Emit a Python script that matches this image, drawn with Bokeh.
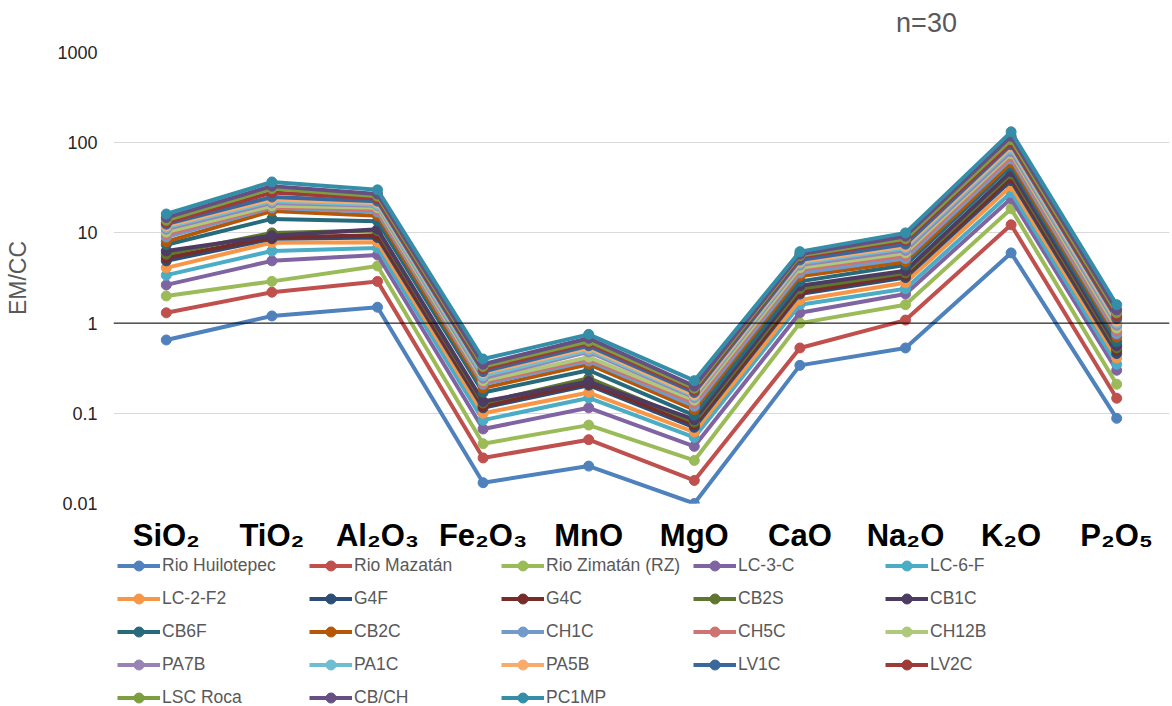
from bokeh.plotting import figure
from bokeh.layouts import column
from bokeh.models import (FactorRange, Range1d, FixedTicker, CustomJSTickFormatter,
                          Span, Label, Legend, LegendItem)
from bokeh.embed import file_html
from bokeh.resources import INLINE

# Oxides on the x axis (subscripts as Unicode)
oxides = ["SiO₂", "TiO₂", "Al₂O₃", "Fe₂O₃", "MnO", "MgO", "CaO", "Na₂O", "K₂O", "P₂O₅"]

# Log-axis ticks
y_ticks = [0.01, 0.1, 1, 10, 100, 1000]

# EM/CC ratios per sample, in the oxide order above
rio_huilotepec = [0.65, 1.2, 1.5, 0.017, 0.026, 0.010, 0.34, 0.53, 6.0, 0.088]
rio_mazatan = [1.3, 2.2, 2.9, 0.032, 0.051, 0.018, 0.53, 1.08, 12.3, 0.147]
rio_zimatan = [2.0, 2.9, 4.3, 0.046, 0.074, 0.030, 1.0, 1.6, 18.5, 0.21]
lc_3_c = [2.65, 4.9, 5.7, 0.067, 0.115, 0.043, 1.3, 2.1, 24.0, 0.30]
lc_6_f = [3.4, 6.3, 6.8, 0.084, 0.148, 0.054, 1.6, 2.4, 28.0, 0.35]
lc_2_f2 = [4.1, 7.8, 7.9, 0.100, 0.170, 0.062, 1.8, 2.8, 33.0, 0.41]
g4f = [4.9, 8.6, 8.9, 0.115, 0.205, 0.070, 2.1, 3.2, 38.0, 0.46]
g4c = [5.3, 8.9, 9.4, 0.120, 0.215, 0.075, 2.2, 3.4, 41.0, 0.50]
cb2s = [5.8, 10.0, 10.6, 0.130, 0.245, 0.080, 2.4, 3.6, 45.0, 0.53]
cb1c = [6.3, 9.3, 11.0, 0.135, 0.225, 0.085, 2.6, 3.8, 48.0, 0.56]
cb6f = [7.4, 14.3, 13.5, 0.170, 0.300, 0.095, 2.9, 4.4, 55.0, 0.62]
cb2c = [8.0, 17.5, 15.5, 0.190, 0.350, 0.110, 3.3, 4.8, 60.0, 0.70]
ch1c = [9.0, 19.0, 17.0, 0.210, 0.380, 0.120, 3.6, 5.2, 66.0, 0.76]
ch5c = [9.6, 19.5, 18.0, 0.220, 0.400, 0.130, 3.9, 5.6, 71.0, 0.82]
ch12b = [10.2, 20.0, 19.0, 0.230, 0.420, 0.140, 4.1, 6.0, 76.0, 0.88]
pa7b = [11.0, 21.5, 20.0, 0.245, 0.480, 0.150, 4.4, 6.4, 80.0, 0.95]
pa1c = [11.5, 22.5, 20.5, 0.260, 0.500, 0.155, 4.6, 6.8, 85.0, 1.00]
pa5b = [12.0, 23.5, 21.5, 0.280, 0.530, 0.160, 4.8, 7.1, 90.0, 1.05]
lv1c = [12.5, 25.0, 22.5, 0.290, 0.560, 0.170, 5.0, 7.5, 95.0, 1.12]
lv2c = [13.0, 28.0, 24.0, 0.310, 0.600, 0.180, 5.4, 8.2, 100.0, 1.20]
lsc_roca = [13.8, 31.0, 25.5, 0.330, 0.630, 0.190, 5.6, 8.6, 108.0, 1.30]
cb_ch = [14.8, 33.0, 27.0, 0.350, 0.680, 0.200, 5.8, 9.2, 118.0, 1.40]
pc1mp = [16.2, 36.7, 30.0, 0.400, 0.750, 0.230, 6.2, 10.0, 132.0, 1.60]

series = [
    ("Rio Huilotepec", rio_huilotepec, "#4F81BD"),
    ("Rio Mazatán", rio_mazatan, "#C0504D"),
    ("Rio Zimatán (RZ)", rio_zimatan, "#9BBB59"),
    ("LC-3-C", lc_3_c, "#8064A2"),
    ("LC-6-F", lc_6_f, "#4BACC6"),
    ("LC-2-F2", lc_2_f2, "#F79646"),
    ("G4F", g4f, "#2C4D75"),
    ("G4C", g4c, "#772C2A"),
    ("CB2S", cb2s, "#5F7530"),
    ("CB1C", cb1c, "#4D3B62"),
    ("CB6F", cb6f, "#276A7C"),
    ("CB2C", cb2c, "#B65708"),
    ("CH1C", ch1c, "#729ACA"),
    ("CH5C", ch5c, "#CD7371"),
    ("CH12B", ch12b, "#AFC97A"),
    ("PA7B", pa7b, "#9983B5"),
    ("PA1C", pa1c, "#6FBDD1"),
    ("PA5B", pa5b, "#F9AB6B"),
    ("LV1C", lv1c, "#3A679C"),
    ("LV2C", lv2c, "#9E3B38"),
    ("LSC Roca", lsc_roca, "#7E9D40"),
    ("CB/CH", cb_ch, "#664F83"),
    ("PC1MP", pc1mp, "#348EA8"),
]

FONT = "Liberation Sans"


def bare_strip(height):
    """A frame-only figure (no axes, grid or outline) used for header/legend strips."""
    f = figure(frame_width=1056, frame_height=height, x_range=Range1d(0, 1), y_range=Range1d(0, 1),
               x_axis_location=None, y_axis_location=None, min_border_left=113,
               min_border_right=3, min_border_top=0, min_border_bottom=0,
               output_backend="svg", toolbar_location=None)
    f.outline_line_color = None
    f.grid.visible = False
    f.border_fill_color = "white"
    return f


# header strip with the sample count
head = bare_strip(40)
head.add_layout(Label(x=813, y=18, x_units="screen", y_units="screen", text="n=30",
                      text_align="center", text_baseline="middle",
                      text_font=FONT, text_font_size="27px", text_color="#595959"))

p = figure(x_range=FactorRange(*oxides), y_range=Range1d(0.01, 1000),
           y_axis_type="log", frame_width=1056, frame_height=451,
           min_border_left=113, min_border_right=3, min_border_top=12,
           min_border_bottom=47, output_backend="svg", toolbar_location=None)
p.title.visible = False
p.outline_line_color = None
p.background_fill_color = "white"
p.border_fill_color = "white"

# y axis: plain decimal labels on each decade
p.yaxis.ticker = FixedTicker(ticks=y_ticks)
p.yaxis.formatter = CustomJSTickFormatter(code="return String(Number(tick.toPrecision(6)));")
p.yaxis.axis_line_color = None
p.yaxis.major_tick_line_color = None
p.yaxis.minor_tick_line_color = None
p.yaxis.major_label_standoff = 10
p.yaxis.major_label_text_font = FONT
p.yaxis.major_label_text_font_size = "18px"
p.yaxis.major_label_text_color = "#262626"
p.yaxis.axis_label = "EM/CC"
p.yaxis.axis_label_text_font = FONT
p.yaxis.axis_label_text_font_size = "23px"
p.yaxis.axis_label_text_font_style = "normal"
p.yaxis.axis_label_text_color = "#595959"
p.yaxis.axis_label_standoff = 23

p.ygrid.ticker = FixedTicker(ticks=y_ticks)
p.ygrid.grid_line_color = "#D9D9D9"
p.ygrid.grid_line_width = 1
p.xgrid.grid_line_color = None

# x axis: bold oxide names
p.xaxis.axis_line_color = None
p.xaxis.major_tick_line_color = None
p.xaxis.minor_tick_line_color = None
p.xaxis.major_label_standoff = 8
p.xaxis.major_label_text_font = FONT
p.xaxis.major_label_text_font_size = "31px"
p.xaxis.major_label_text_font_style = "bold"
p.xaxis.major_label_text_color = "black"

# reference line at EM/CC = 1
p.add_layout(Span(location=1, dimension="width", line_color="black", line_width=1))

for name, vals, color in series:
    p.line(oxides, vals, line_color=color, line_width=4)
    p.scatter(oxides, vals, marker="circle", size=10, fill_color=color, line_color=color)

# legend strip under the chart: sample swatches (line + marker) in a 5-column grid;
# the swatch renderers hold a single point outside the strip's visible range
leg = bare_strip(156)
items = []
for name, vals, color in series:
    ln = leg.line(x=[-5, -4], y=[-5, -4], line_color=color, line_width=4)
    sc = leg.scatter(x=[-5], y=[-5], marker="circle", size=10, fill_color=color, line_color=color)
    items.append(LegendItem(label=name, renderers=[ln, sc]))

legend = Legend(items=items, ncols=5, orientation="horizontal", location=(4, 1),
                label_text_font=FONT, label_text_font_size="17.5px", label_text_color="#595959",
                glyph_width=43, glyph_height=25, label_height=25, label_width=139,
                label_standoff=2, spacing=8, padding=0, margin=0,
                border_line_color=None, background_fill_alpha=0)
leg.add_layout(legend, "center")

open("out.html", "w").write(file_html(column(head, p, leg), INLINE))
